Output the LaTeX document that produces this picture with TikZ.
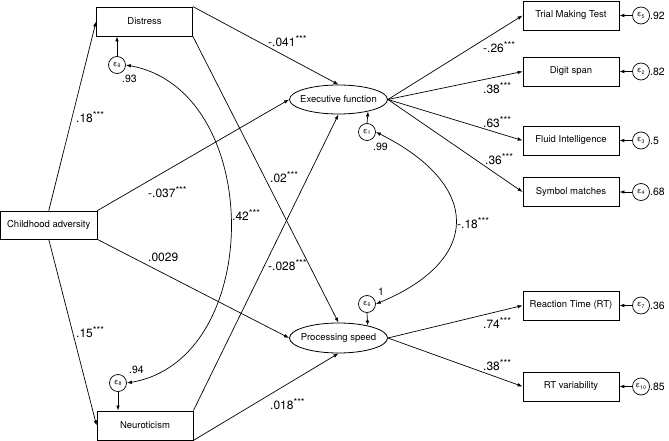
\documentclass[tikz,border=0pt]{standalone}
\usepackage{fontspec}
\setmainfont{TeX Gyre Heros}
\usetikzlibrary{arrows.meta,shapes.geometric}
\newcommand{\sig}{\raisebox{0.38em}{\fontsize{9.5}{10}\selectfont***}}
\begin{document}
\begin{tikzpicture}[x=1pt,y=-1pt,
  box/.style={draw, line width=0.8pt, minimum width=96pt, minimum height=29pt, inner sep=0pt, font=\fontsize{9.5}{11}\selectfont},
  lat/.style={draw, ellipse, line width=0.8pt, minimum width=98pt, minimum height=29pt, inner xsep=-8pt, inner ysep=0pt, font=\fontsize{9.5}{11}\selectfont},
  err/.style={draw, circle, line width=0.7pt, minimum size=17pt, inner sep=0pt, font=\fontsize{7.5}{8}\selectfont},
  arr/.style={line width=0.7pt, -{Latex[length=5pt,width=3.6pt]}},
  darr/.style={line width=0.7pt, {Latex[length=5pt,width=3.6pt]}-{Latex[length=5pt,width=3.6pt]}},
  lbl/.style={anchor=west, inner sep=0pt, font=\fontsize{12}{14}\selectfont},
  elbl/.style={anchor=west, inner sep=0pt, font=\fontsize{10.5}{12}\selectfont}]
\useasboundingbox (0,0) rectangle (669,441);

% observed exogenous / mediators
\node[box, minimum width=96.5pt, minimum height=28pt] (child) at (48.75,225) {Childhood adversity};
\node[box] (dist) at (144.5,21.5) {Distress};
\node[box] (neur) at (145,425.5) {Neuroticism};

% latent variables
\node[lat] (ef) at (338.5,99.5) {Executive function};
\node[lat, minimum height=30pt] (ps) at (338.5,338) {Processing speed};

% indicators
\node[box] (tmt) at (571,15.5) {Trial Making Test};
\node[box] (ds) at (571,71.5) {Digit span};
\node[box] (fi) at (571,140.5) {Fluid Intelligence};
\node[box] (sm) at (571,192) {Symbol matches};
\node[box] (rt) at (571,305.5) {Reaction Time (RT)};
\node[box] (rtv) at (571,386.5) {RT variability};

% error terms
\node[err] (e9) at (117,65) {ε\textsubscript{9}};
\node[err] (e8) at (118,383) {ε\textsubscript{8}};
\node[err] (e1) at (367,132) {ε\textsubscript{1}};
\node[err] (e6) at (367,304) {ε\textsubscript{6}};
\node[err] (e5) at (641,15.5) {ε\textsubscript{5}};
\node[err] (e2) at (641,71.5) {ε\textsubscript{2}};
\node[err] (e3) at (641,140.5) {ε\textsubscript{3}};
\node[err] (e4) at (641,192) {ε\textsubscript{4}};
\node[err] (e7) at (641,305.5) {ε\textsubscript{7}};
\node[err] (e10) at (641,386.5) {ε\textsubscript{10}};

% structural paths
\draw[arr] (child.north) -- (dist.west);
\draw[arr] (child.south) -- (neur.west);
\draw[arr] (child.north east) -- (ef.west);
\draw[arr] (child.south east) -- (ps.west);
\draw[arr] (dist.north east) -- (ef.north);
\draw[arr] (dist.south east) -- (ps.north);
\draw[arr] (neur.north east) -- (ef.south);
\draw[arr] (neur.south east) -- (ps.south);

% measurement paths
\draw[arr] (ef.east) -- (tmt.west);
\draw[arr] (ef.east) -- (ds.west);
\draw[arr] (ef.east) -- (fi.west);
\draw[arr] (ef.east) -- (sm.west);
\draw[arr] (ps.east) -- (rt.west);
\draw[arr] (ps.east) -- (rtv.west);

% errors
\draw[arr] (e9.north) -- (e9 |- dist.south);
\draw[arr] (e8.south) -- (e8 |- neur.north);
\draw[arr] (e1.north) -- (ef.-22.5);
\draw[arr] (e6.south) -- (ps.23);
\draw[arr] (e5.west) -- (tmt.east);
\draw[arr] (e2.west) -- (ds.east);
\draw[arr] (e3.west) -- (fi.east);
\draw[arr] (e4.west) -- (sm.east);
\draw[arr] (e7.west) -- (rt.east);
\draw[arr] (e10.west) -- (rtv.east);

% covariances
\draw[darr] (e9.east) .. controls (265,90) and (265,360) .. (e8.east);
\draw[darr] (e1.east) .. controls (482,185) and (482,260) .. (e6.east);

% path coefficients
\node[lbl] (l1) at (268,41) {-.041\sig};
\node[lbl] (l2) at (76,117) {.18\sig};
\node[lbl] (l3) at (148,192) {-.037\sig};
\node[lbl] (l4) at (148,257) {.0029};
\node[lbl] (l5) at (76,332) {.15\sig};
\node[lbl] (l6) at (270,177) {.02\sig};
\node[lbl] (l7) at (268,265) {-.028\sig};
\node[lbl] (l8) at (270,404) {.018\sig};
\node[lbl] (l9) at (232,215) {.42\sig};
\node[lbl] (l10) at (457,223) {-.18\sig};
\node[lbl] (l11) at (483,47) {-.26\sig};
\node[lbl] (l12) at (483,88) {.38\sig};
\node[lbl] (l13) at (483,122) {.63\sig};
\node[lbl] (l14) at (485,159) {.36\sig};
\node[lbl] (l15) at (483,323) {.74\sig};
\node[lbl] (l16) at (483,365) {.38\sig};

% variances
\node[elbl] (v9) at (122,79) {.93};
\node[elbl] (v8) at (129,370) {.94};
\node[elbl] (v1) at (373,147) {.99};
\node[elbl] (v6) at (378,292) {1};
\node[elbl] (v5) at (650,15.5) {.92};
\node[elbl] (v2) at (650,71.5) {.82};
\node[elbl] (v3) at (650,140.5) {.5};
\node[elbl] (v4) at (650,192) {.68};
\node[elbl] (v7) at (650,305.5) {.36};
\node[elbl] (v10) at (650,386.5) {.85};
\end{tikzpicture}
\end{document}
